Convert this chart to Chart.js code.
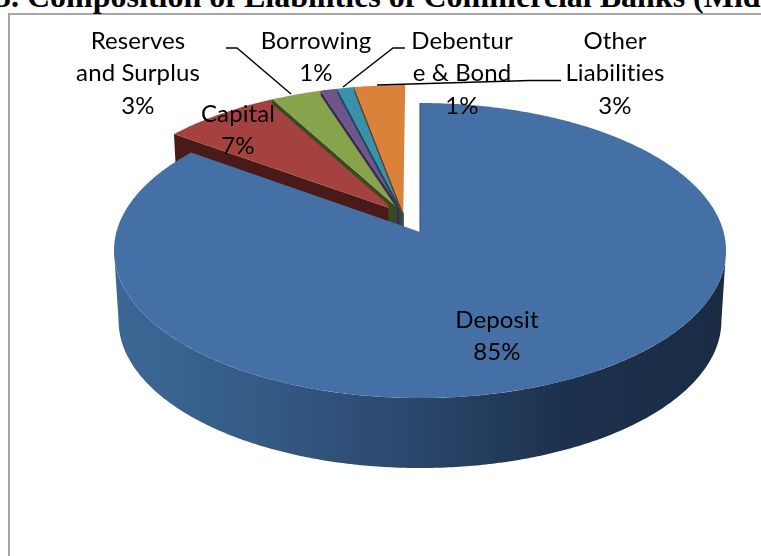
<!DOCTYPE html>
<html>
<head>
<meta charset="utf-8">
<title>Composition of Liabilities of Commercial Banks</title>
<script src="https://cdn.jsdelivr.net/npm/chart.js@4"></script>
<style>
    html, body { margin: 0; padding: 0; background: #fff; overflow: hidden; }
    #wrap { position: relative; width: 761px; height: 556px; overflow: hidden; }
    #heading {
        position: absolute; left: -5px; top: -22px; white-space: nowrap;
        font: bold 32px "Liberation Serif", serif; color: #000;
    }
    #frame {
        position: absolute; left: 8px; top: 13px; width: 800px; height: 600px;
        border: 2px solid #a6a6a6;
    }
    canvas { position: absolute; left: 0; top: 0; }
</style>
</head>
<body>
<div id="wrap">
    <div id="frame"></div>
    <div id="heading">5. Composition of Liabilities of Commercial Banks (Mid</div>
    <canvas id="liabilitiesChart" width="761" height="556"></canvas>
</div>
<script>
const categories = ['Deposit', 'Capital', 'Reserves and Surplus', 'Borrowing', 'Debenture & Bond', 'Other Liabilities'];
const shares = [85, 7, 3, 1, 1, 3];
const topColors = ['#4470a6', '#a5423f', '#87a34b', '#70548c', '#3992ac', '#da823a'];
const wallColors = ['#2c4a70', '#4a1a18', '#3a4a20', '#3b2a52', '#1c4d5e', '#6d4220'];

// label text as it wraps on the page
const labelLines = [['Deposit'], ['Capital'], ['Reserves', 'and Surplus'], ['Borrowing'], ['Debentur', 'e & Bond'], ['Other', 'Liabilities']];

// perspective of the disc, origin sits on the pulled out slice's tip
const originX = 420, originY = 232;
const scaleX = 303.6, scaleY = 145.2, tilt = 0.1255;
const depth = 70, bottomShrink = 0.985, seamDepth = 5;
const pullU = 0.056, pullV = 0.134, backRadius = 1.025;
// how far along its edge each back slice's wall reaches in from the tip
const tipWall = [0, 0, 0.115, 0.08, 0.06, 0.03];

function project(u, v) {
    const w = 1 - tilt * v;
    return [originX + scaleX * u / w, originY + scaleY * v / w];
}
function lower(p, d) {
    return [originX + (p[0] - originX) * (1 + (bottomShrink - 1) * d / depth), p[1] + d];
}
function tracePath(ctx, points) {
    ctx.beginPath();
    points.forEach((p, i) => i ? ctx.lineTo(p[0], p[1]) : ctx.moveTo(p[0], p[1]));
    ctx.closePath();
}
function rimPoints(start, end, du, dv, radius) {
    const pts = [];
    const steps = Math.max(2, Math.ceil(Math.abs(end - start) / 0.01));
    for (let i = 0; i <= steps; i++) {
        const a = start + (end - start) * i / steps;
        pts.push(project(radius * Math.cos(a) + du, radius * Math.sin(a) + dv));
    }
    return pts;
}

const pie3d = {
    id: 'pie3d',
    beforeDatasetsDraw(chart) {
        const ctx = chart.ctx;
        const arcs = chart.getDatasetMeta(0).data.map(el => el.getProps(['startAngle', 'endAngle'], true));
        ctx.save();

        // back slices first, each one covers the previous slice's seam
        const tip = project(-pullU, -pullV);
        for (let i = 1; i < arcs.length; i++) {
            const { startAngle, endAngle } = arcs[i];
            const edge = project(backRadius * Math.cos(startAngle) - pullU, backRadius * Math.sin(startAngle) - pullV);
            ctx.fillStyle = wallColors[i];
            if (i === 1) {
                tracePath(ctx, [tip, edge, lower(edge, depth), lower(tip, depth)]);
            } else {
                const f = tipWall[i];
                const inner = [tip[0] + (edge[0] - tip[0]) * f, tip[1] + (edge[1] - tip[1]) * f];
                tracePath(ctx, [tip, edge, lower(edge, seamDepth), lower(inner, seamDepth), lower(inner, 30), lower(tip, 30)]);
            }
            ctx.fill();

            ctx.fillStyle = topColors[i];
            tracePath(ctx, [tip].concat(rimPoints(startAngle, endAngle, -pullU, -pullV, backRadius)));
            ctx.fill();
        }

        // front wall of the big slice, from widest point to widest point of the rim
        const widest = Math.asin(tilt);
        const rim = rimPoints(widest, Math.PI - widest, 0, 0, 1);
        const wall = ctx.createLinearGradient(115, 0, 727, 0);
        wall.addColorStop(0, '#3c6896');
        wall.addColorStop(0.25, '#345985');
        wall.addColorStop(0.5, '#2a466b');
        wall.addColorStop(0.72, '#1d324f');
        wall.addColorStop(1, '#1a2b43');
        ctx.fillStyle = wall;
        tracePath(ctx, rim.concat(rim.slice().reverse().map(p => lower(p, depth))));
        ctx.fill();

        ctx.fillStyle = topColors[0];
        tracePath(ctx, [project(0, 0)].concat(rimPoints(arcs[0].startAngle, arcs[0].endAngle, 0, 0, 1)));
        ctx.fill();

        // thin dark edge down the big slice's straight side
        const cut = project(Math.cos(arcs[0].startAngle), Math.sin(arcs[0].startAngle));
        ctx.strokeStyle = wallColors[0];
        ctx.lineWidth = 1;
        ctx.beginPath();
        ctx.moveTo(cut[0], cut[1]);
        ctx.lineTo(originX, originY);
        ctx.stroke();

        ctx.restore();
        return false;
    },
    // the cancelled dataset pass also skips afterDatasetsDraw, so labels go here
    afterDraw(chart) {
        const ctx = chart.ctx;
        ctx.save();

        // leader lines
        ctx.strokeStyle = '#000';
        ctx.lineWidth = 1.4;
        [
            [[226, 48], [237, 48], [291, 94]],
            [[405, 48], [393, 48], [343, 87]],
            [[561, 80.5], [530, 80.5], [377, 85]]
        ].forEach(line => {
            ctx.beginPath();
            line.forEach((p, i) => i ? ctx.lineTo(p[0], p[1]) : ctx.moveTo(p[0], p[1]));
            ctx.stroke();
        });

        // data labels, name lines then the percent
        const spots = [[497, 320], [238, 114], [138, 41], [316, 41], [462, 41], [615, 41]];
        ctx.fillStyle = '#000';
        ctx.font = '24px Lato, sans-serif';
        ctx.letterSpacing = '0.1px';
        ctx.textAlign = 'center';
        ctx.textBaseline = 'middle';
        spots.forEach((spot, i) => {
            labelLines[i].concat(shares[i] + '%').forEach((text, n) => {
                ctx.fillText(text, spot[0], spot[1] + n * 32.5);
            });
        });
        ctx.restore();
    }
};

new Chart(document.getElementById('liabilitiesChart'), {
    type: 'pie',
    data: {
        labels: categories,
        datasets: [{ data: shares, backgroundColor: topColors, borderWidth: 0 }]
    },
    options: {
        responsive: false,
        animation: false,
        rotation: 0,
        plugins: { legend: { display: false }, tooltip: { enabled: false } }
    },
    plugins: [pie3d]
});
</script>
</body>
</html>
